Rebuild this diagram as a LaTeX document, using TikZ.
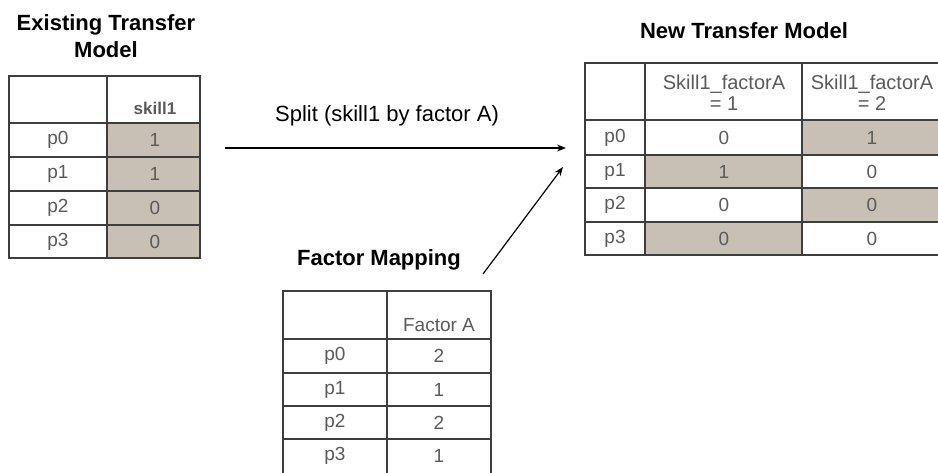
\documentclass[tikz,border=0pt]{standalone}
\usepackage{fontspec}
\setmainfont{Liberation Sans}
\usetikzlibrary{arrows.meta}
\definecolor{cellfill}{RGB}{200,192,181}
\definecolor{gridline}{RGB}{62,62,62}
\definecolor{celltext}{RGB}{90,90,90}
\begin{document}
\begin{tikzpicture}[x=1pt,y=-1pt,
  title/.style={font=\bfseries\fontsize{22}{27}\selectfont, align=center, inner sep=0pt},
  cell/.style={font=\fontsize{19}{20}\selectfont, text=celltext, inner sep=0pt, align=center},
  headcell/.style={cell, font=\bfseries\fontsize{17}{20}\selectfont},
  twoline/.style={cell, font=\fontsize{20}{21}\selectfont},
  grid/.style={draw=gridline, line width=1.5pt},
  flow/.style={-{Stealth[length=9pt,width=7pt]}, line width=1.2pt},
  label/.style={font=\fontsize{22}{24}\selectfont, inner sep=0pt}]
\useasboundingbox (0,0) rectangle (938,473);

% ---- Existing transfer model ----
\node[title] (oldtitle) at (106,36) {Existing Transfer\\Model};
\fill[cellfill] (107,123) rectangle (200,258);
\draw[grid] (9,76) rectangle (200,258);
\draw[grid] (107,76) -- (107,258);
\foreach \y in {123,157,191,225} \draw[grid] (9,\y) -- (200,\y);
\node[headcell] (oldhead) at (155,108) {skill1};
\foreach \r/\v/\y in {p0/1/140,p1/1/174,p2/0/208,p3/0/241.5} {
  \node[cell] (old-\r) at (58,\y) {\r};
  \node[cell] (oldval-\r) at (155,\y) {\v};
}

% ---- New transfer model ----
\node[title] (newtitle) at (744,31) {New Transfer Model};
\fill[cellfill] (802,120) rectangle (938,155);
\fill[cellfill] (645,155) rectangle (802,188);
\fill[cellfill] (802,188) rectangle (938,222);
\fill[cellfill] (645,222) rectangle (802,255);
\draw[grid] (938,63) -- (585,63) -- (585,255) -- (938,255);
\draw[grid] (645,63) -- (645,255);
\draw[grid] (802,63) -- (802,255);
\foreach \y in {120,155,188,222} \draw[grid] (585,\y) -- (938,\y);
\node[twoline] (newhead1) at (724,93) {Skill1\_factorA\\= 1};
\node[twoline] (newhead2) at (872,93) {Skill1\_factorA\\= 2};
\foreach \r/\a/\b/\y in {p0/0/1/137.5,p1/1/0/171.5,p2/0/0/205,p3/0/0/238.5} {
  \node[cell] (new-\r) at (615,\y) {\r};
  \node[cell] (newa-\r) at (724,\y) {\a};
  \node[cell] (newb-\r) at (872,\y) {\b};
}

% ---- Factor mapping ----
\node[title] (maptitle) at (379,260) {Factor Mapping};
\draw[grid] (283,473) -- (283,291) -- (491,291) -- (491,473);
\draw[grid] (387,291) -- (387,473);
\foreach \y in {339,373,406,439} \draw[grid] (283,\y) -- (491,\y);
\node[cell] (maphead) at (439,325) {Factor A};
\foreach \r/\v/\y in {p0/2/356,p1/1/389.5,p2/2/422.5,p3/1/456} {
  \node[cell] (map-\r) at (335,\y) {\r};
  \node[cell] (mapval-\r) at (439,\y) {\v};
}

% ---- Connectors ----
\coordinate (splitfrom) at (225,148);
\coordinate (splitto) at (566,148);
\draw[flow] (splitfrom) -- (splitto);
\node[label] (splitlabel) at (387,116) {Split (skill1 by factor A)};
\coordinate (mapfrom) at (483,274);
\coordinate (mapto) at (563,167);
\draw[flow] (mapfrom) -- (mapto);
\end{tikzpicture}
\end{document}
